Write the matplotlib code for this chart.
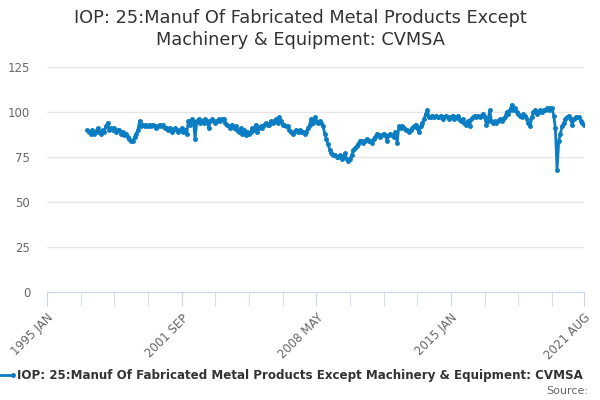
import numpy as np
import matplotlib.pyplot as plt
from matplotlib.lines import Line2D

# Monthly values, 1997 JAN .. 2021 AUG
start_year = 1997
values = [
    90, 89, 88, 90, 88, 89, 91, 89, 88, 90, 89, 92,      # 1997
    94, 90, 91, 90, 91, 89, 90, 90, 88, 89, 87, 88,      # 1998
    86, 85, 84, 84, 86, 88, 90, 95, 92, 93, 92, 93,      # 1999
    92, 93, 92, 93, 92, 91, 92, 93, 92, 93, 91, 91,      # 2000
    90, 91, 89, 90, 91, 90, 89, 90, 91, 89, 90, 88,      # 2001
    95, 93, 96, 95, 85, 95, 96, 94, 95, 94, 96, 95,      # 2002
    91, 95, 96, 95, 94, 95, 96, 95, 96, 96, 94, 93,      # 2003
    92, 91, 93, 91, 92, 90, 89, 91, 88, 90, 87, 89,      # 2004
    88, 89, 91, 90, 93, 89, 91, 92, 91, 93, 94, 93,      # 2005
    93, 95, 94, 95, 96, 94, 97, 95, 93, 93, 92, 92,      # 2006
    90, 89, 88, 89, 90, 89, 90, 89, 89, 88, 89, 91,      # 2007
    93, 96, 94, 97, 95, 94, 95, 94, 92, 88, 85, 82,      # 2008
    79, 77, 76, 76, 75, 75, 76, 74, 75, 77, 74, 73,      # 2009
    74, 76, 79, 80, 81, 82, 84, 84, 83, 84, 85, 84,      # 2010
    84, 83, 85, 86, 88, 87, 86, 87, 88, 87, 84, 87,      # 2011
    88, 87, 86, 89, 83, 92, 91, 92, 91, 90, 90, 89,      # 2012
    90, 91, 92, 93, 91, 89, 92, 94, 96, 99, 101, 97,     # 2013
    97, 98, 97, 98, 97, 97, 98, 96, 97, 98, 97, 96,      # 2014
    97, 98, 96, 97, 98, 96, 95, 96, 94, 93, 95, 92,      # 2015
    96, 97, 98, 97, 98, 97, 98, 99, 97, 93, 95, 101,     # 2016
    95, 94, 95, 94, 95, 96, 95, 96, 97, 100, 99, 101,    # 2017
    104, 101, 102, 100, 99, 98, 97, 99, 98, 96, 94, 92,  # 2018
    97, 100, 101, 99, 100, 101, 100, 101, 101, 102, 101, 102,  # 2019
    102, 98, 91, 68, 84, 88, 92, 94, 96, 97, 98, 96,     # 2020
    93, 96, 97, 97, 97, 95, 94, 93,                      # 2021
]
tick_labels = ["1995 JAN", "2001 SEP", "2008 MAY", "2015 JAN", "2021 AUG"]
series_name = "IOP: 25:Manuf Of Fabricated Metal Products Except Machinery & Equipment: CVMSA"

blue = "#0b7dc3"

# months counted from 1995 JAN (the axis is a category axis)
x = (start_year - 1995) * 12 + np.arange(len(values))
last = x[-1]

fig = plt.figure(figsize=(6, 4), dpi=100)
ax = fig.add_axes([47 / 600, 1 - 292 / 400, 537 / 600, 225 / 400])

ax.plot(x, values, color=blue, linewidth=2, marker="o", markersize=2.5)

ax.set_xlim(0, last)
ax.set_ylim(0, 125)
ax.set_yticks(range(0, 126, 25))
ax.grid(axis="y", color="#e6e6e6", linewidth=1)
ax.set_axisbelow(True)

major = [0, 80, 160, 240, last]
minor = [m for m in range(20, last, 20) if m not in major]
ax.set_xticks(major)
ax.set_xticklabels(tick_labels, rotation=45, ha="right", rotation_mode="anchor")
ax.set_xticks(minor, minor=True)
ax.tick_params(axis="x", which="both", length=10, color="#ccd6eb", labelcolor="#666666",
               labelsize=8.5, pad=4)
ax.tick_params(axis="y", length=0, labelcolor="#666666", labelsize=8.5, pad=12)

for s in ["top", "right", "left"]:
    ax.spines[s].set_visible(False)
ax.spines["bottom"].set_color("#ccd6eb")

fig.text(0.5, 1 - 18 / 400, "IOP: 25:Manuf Of Fabricated Metal Products Except",
         ha="center", va="center", fontsize=12.75, color="#333333")
fig.text(0.5, 1 - 40 / 400, "Machinery & Equipment: CVMSA",
         ha="center", va="center", fontsize=12.75, color="#333333")

# legend row at the bottom
fig.add_artist(Line2D([0 / 600, 13 / 600], [1 - 375 / 400] * 2, color=blue, linewidth=2,
                      marker="o", markersize=2.5, markevery=[1]))
fig.text(17 / 600, 1 - 375 / 400, series_name, ha="left", va="center",
         fontsize=8.55, fontweight="bold", color="#333333")
fig.text(588 / 600, 1 - 391 / 400, "Source:", ha="right", va="center",
         fontsize=8, color="#666666")

fig.savefig("out.png", dpi=100)
